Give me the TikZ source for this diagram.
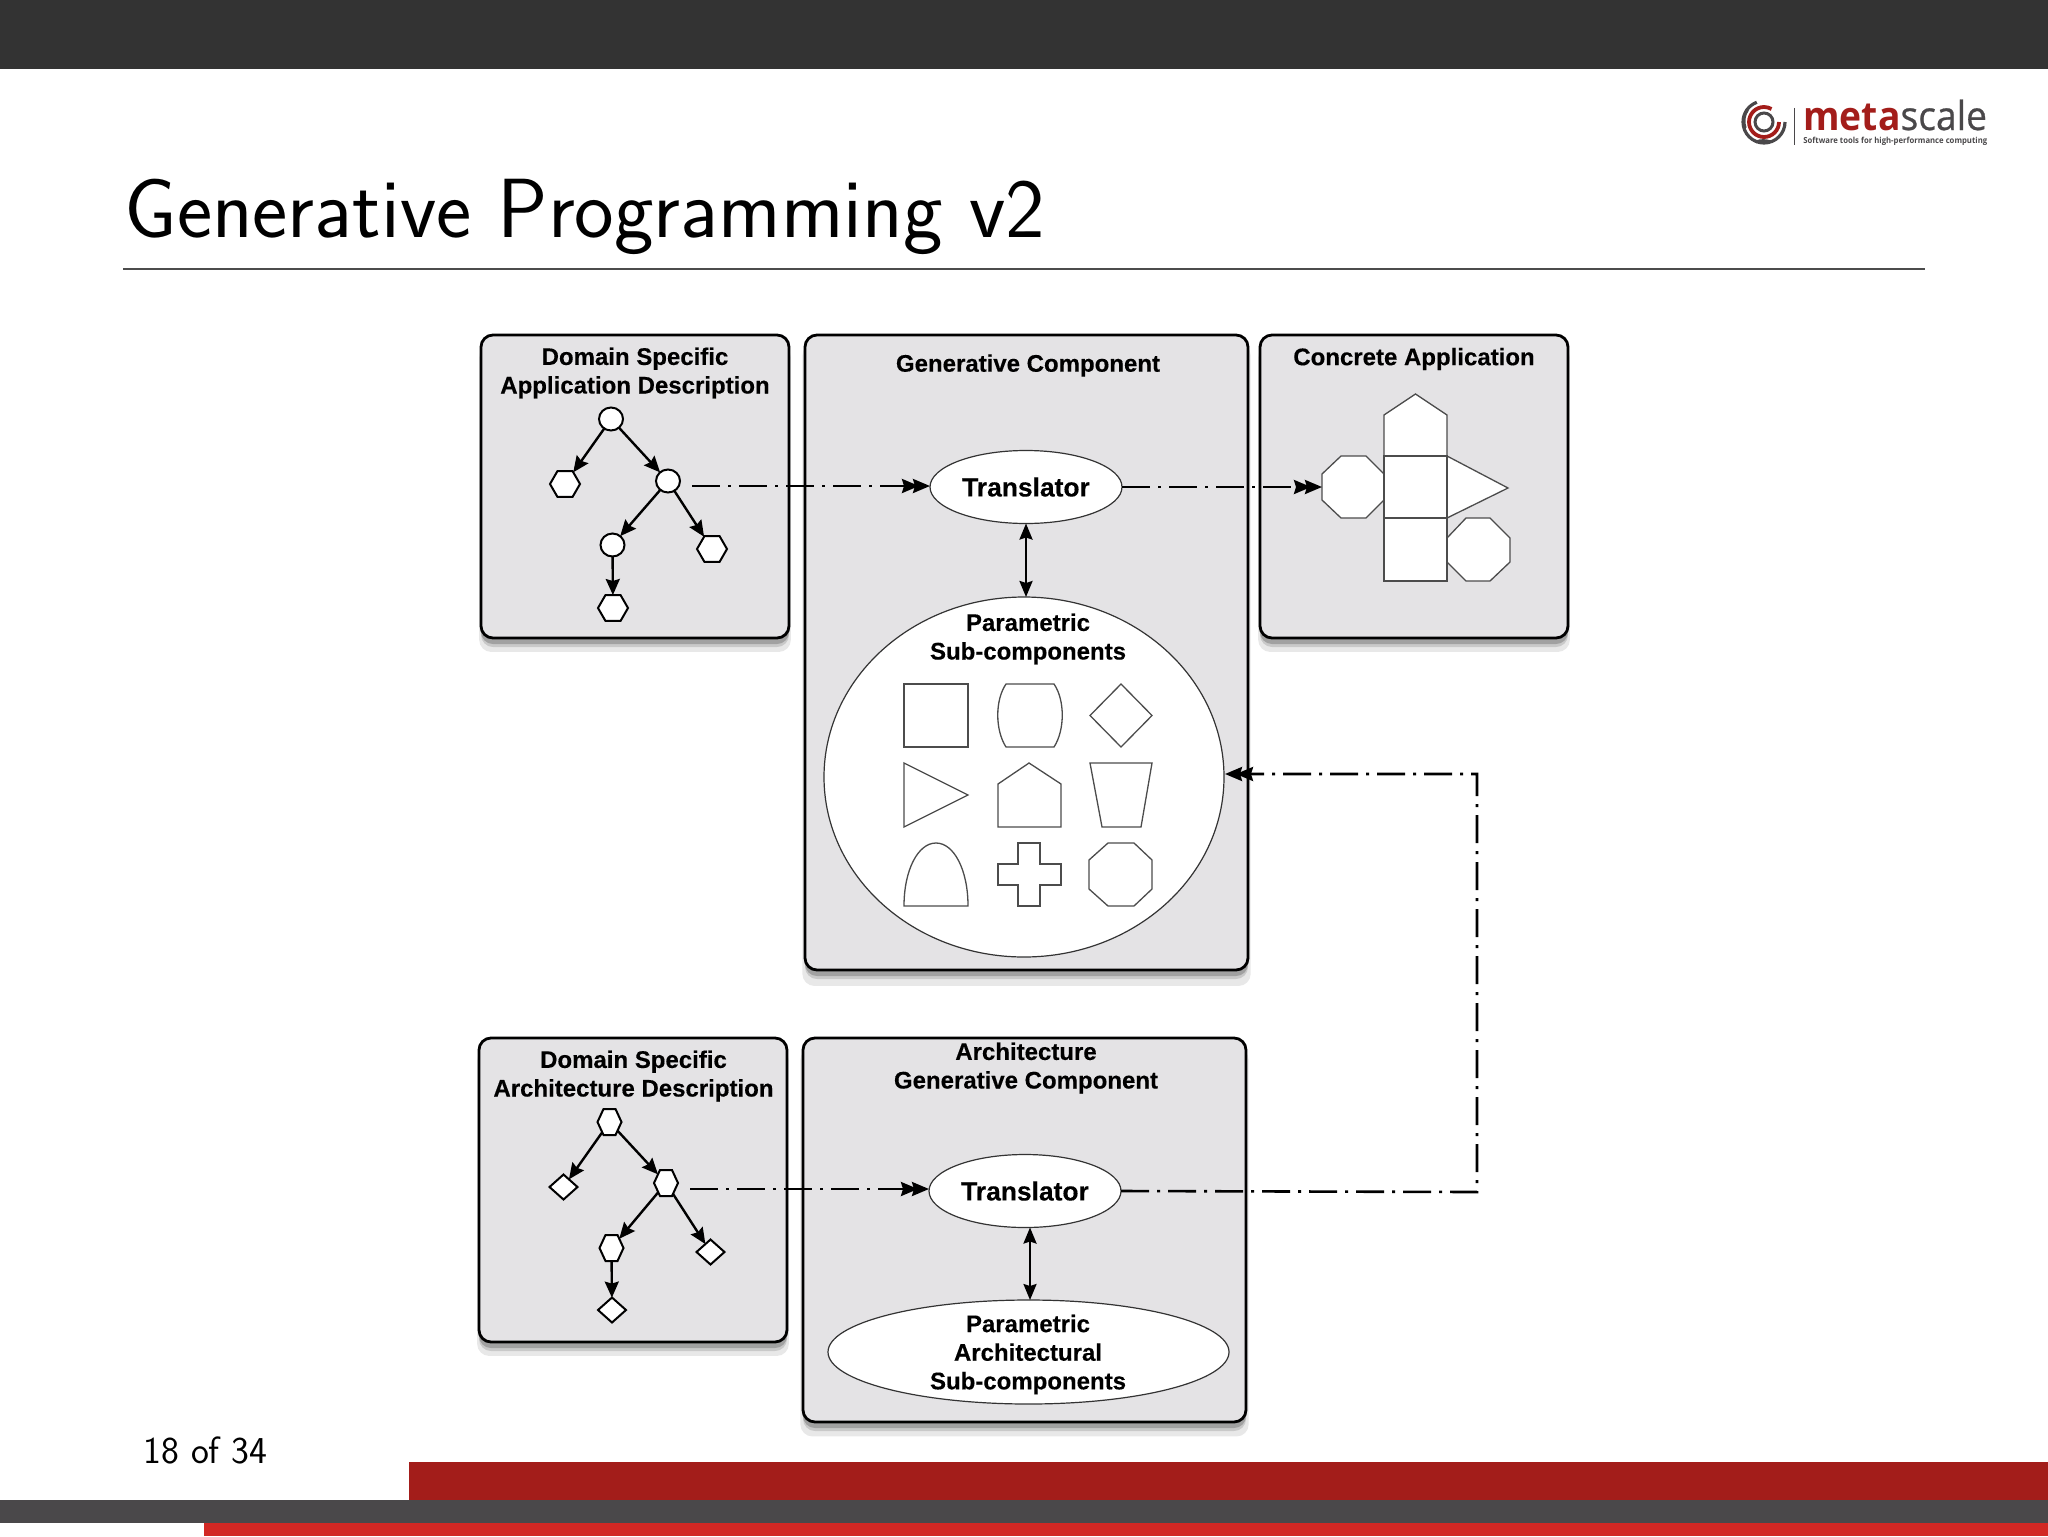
\documentclass[tikz,border=0pt]{standalone}
\usepackage{fontspec}
\usetikzlibrary{shapes.geometric,arrows.meta,shadows}
\newfontfamily\figfont[BoldFeatures={FakeBold=.3}]{Liberation Sans}
\newfontfamily\logofont[FakeStretch=.93]{Open Sans}
\newfontfamily\logoscale[FakeStretch=.93,FakeBold=.6]{Open Sans}
\definecolor{topbar}{HTML}{333333}
\definecolor{panelgrey}{HTML}{E4E3E5}
\definecolor{darkred}{HTML}{A31D1A}
\definecolor{brightred}{HTML}{D22824}
\definecolor{footgrey}{HTML}{4A484A}
\begin{document}
\begin{tikzpicture}[x=.5pt,y=-.5pt, % coordinates are reference pixels
  panel/.style={draw=black,line width=1.4pt,fill=panelgrey,rounded corners=6pt,inner sep=0,outer sep=0,
    drop shadow={shadow xshift=0pt,shadow yshift=-6pt,shadow scale=1.012,opacity=.18},
    drop shadow={shadow xshift=0pt,shadow yshift=-4.5pt,opacity=.3},
    drop shadow={shadow xshift=0pt,shadow yshift=-3pt,opacity=.55}},
  caption/.style={font=\figfont\bfseries\fontsize{12}{14.3}\selectfont,align=center,inner sep=0},
  oval/.style={ellipse,draw=black!80,line width=.6pt,fill=white,inner sep=0,outer sep=0},
  treeround/.style={ellipse,draw=black,line width=1pt,fill=white,minimum width=12pt,minimum height=11.5pt,inner sep=0,outer sep=0},
  treehex/.style={regular polygon,regular polygon sides=6,draw=black,line width=1pt,fill=white,minimum size=15pt,inner sep=0,outer sep=0},
  treekite/.style={diamond,draw=black,line width=1pt,fill=white,minimum width=14pt,minimum height=12.5pt,aspect=1.2,inner sep=0,outer sep=0},
  treearrow/.style={line width=1.2pt,-{Stealth[length=8pt,width=7pt,inset=1pt]}},
  flow/.style={line width=1.3pt,dash pattern=on 14pt off 4pt on 1.5pt off 4pt,-{Stealth[length=8.5pt,width=7pt,inset=1pt,sep=-3pt]Stealth[length=8.5pt,width=7pt,inset=1pt]}},
  both/.style={line width=1.2pt,{Stealth[length=8pt,width=6.5pt,inset=1pt]}-{Stealth[length=8pt,width=6.5pt,inset=1pt]}},
  form/.style={draw=black!70,line width=.65pt,fill=white}]
\useasboundingbox (0,0) rectangle (2048,1536);

% slide furniture
\fill[topbar] (0,0) rectangle (2048,69);
\fill[darkred] (409,1462) rectangle (2048,1500);
\fill[footgrey] (0,1500) rectangle (2048,1523);
\fill[brightred] (204,1523) rectangle (2048,1536);
\draw[black!70,line width=1.2pt] (123,269) -- (1925,269);
\node[anchor=base west,inner sep=0] (slidetitle) at (124,237) {\sffamily\fontsize{42}{50}\selectfont Generative Programming v2};
\node[anchor=base west,inner sep=0] (pagenum) at (143,1463) {\sffamily\fontsize{19}{23}\selectfont 18 of 34};

% logo
\draw[footgrey,line width=1.6pt] (1785,122) arc (0:250:21) (1756,142) arc (250:290:21);
\draw[footgrey,line width=1.6pt] (1745,128) arc (160:215:20);
\draw[darkred,line width=1.9pt] (1779,122) arc (0:300:15);
\draw[footgrey,line width=1.5pt] (1773,122) arc (0:360:9);
\draw[footgrey,line width=.5pt] (1794,108) -- (1794,145);
\node[anchor=base west,inner sep=0] (logoname) at (1803,130) {\fontsize{20}{24}\selectfont{\color{darkred}\logofont\bfseries meta}{\color{footgrey}\logoscale scale}};
\node[anchor=base west,inner sep=0,text=footgrey] (logotag) at (1803,143) {\logofont\bfseries\fontsize{4.15}{5}\selectfont Software tools for high-performance computing};

% panels
\node[panel,minimum width=154pt,minimum height=151.5pt] (apppanel) at (635,486.5) {};
\node[panel,minimum width=221.5pt,minimum height=317.5pt] (genpanel) at (1026.5,652.5) {};
\node[panel,minimum width=154pt,minimum height=151.5pt] (concpanel) at (1414,486.5) {};
\node[panel,minimum width=154pt,minimum height=152pt] (archpanel) at (633,1190) {};
\node[panel,minimum width=221.5pt,minimum height=192pt] (agenpanel) at (1024.5,1230) {};

\node[caption] (apptitle) at (635,373) {Domain Specific\\Application Description};
\node[caption] (gentitle) at (1028,365.5) {Generative Component};
\node[caption] (conctitle) at (1414,359) {Concrete Application};
\node[caption] (archtitle) at (633.5,1076) {Domain Specific\\Architecture Description};
\node[caption] (agentitle) at (1026,1068) {Architecture\\Generative Component};

% ovals
\node[oval,minimum width=96pt,minimum height=36.5pt,font=\figfont\bfseries\fontsize{13.2}{16}\selectfont] (trans) at (1026,487) {Translator};
\node[oval,minimum width=200pt,minimum height=180pt] (subs) at (1024,777) {};
\node[caption] (substitle) at (1028,639) {Parametric\\Sub-components};
\node[oval,minimum width=96pt,minimum height=36.5pt,font=\figfont\bfseries\fontsize{13.2}{16}\selectfont] (atrans) at (1025,1191) {Translator};
\node[oval,minimum width=200.5pt,minimum height=52pt] (asubs) at (1028.5,1352) {};
\node[caption] (asubstitle) at (1028,1354.5) {Parametric\\Architectural\\Sub-components};

% application tree
\node[treeround] (aroot) at (611,419) {};
\node[treehex] (aleafa) at (565,484) {};
\node[treeround] (amid) at (668,481) {};
\node[treeround] (alow) at (612.5,545) {};
\node[treehex] (aleafb) at (712,549) {};
\node[treehex] (aleafc) at (613,608) {};
\draw[treearrow] (aroot) -- (aleafa);
\draw[treearrow] (aroot) -- (amid);
\draw[treearrow] (amid) -- (alow);
\draw[treearrow] (amid) -- (aleafb);
\draw[treearrow] (alow) -- (aleafc);

% architecture tree
\node[treehex,xscale=.8,transform shape] (broot) at (609.5,1122) {};
\node[treekite] (bleafa) at (563.5,1187) {};
\node[treehex,xscale=.8,transform shape] (bmid) at (666,1183) {};
\node[treehex,xscale=.8,transform shape] (blow) at (611.5,1248) {};
\node[treekite] (bleafb) at (710.5,1252) {};
\node[treekite] (bleafc) at (612,1310) {};
\draw[treearrow] (broot) -- (bleafa);
\draw[treearrow] (broot) -- (bmid);
\draw[treearrow] (bmid) -- (blow);
\draw[treearrow] (bmid) -- (bleafb);
\draw[treearrow] (blow) -- (bleafc);

% sub-component forms
\draw[form] (904,684) rectangle (968,747);
\draw[form] (1006,684) -- (1054,684) .. controls (1065,700) and (1065,730) .. (1054,747) -- (1006,747) .. controls (995,730) and (995,700) .. (1006,684) -- cycle;
\draw[form] (1121,684) -- (1152,715.5) -- (1121,747) -- (1090,715.5) -- cycle;
\draw[form] (904,763) -- (968,795) -- (904,827) -- cycle;
\draw[form] (1029,763) -- (1061,784) -- (1061,827) -- (998,827) -- (998,784) -- cycle;
\draw[form] (1090,763) -- (1152,763) -- (1141,827) -- (1102,827) -- cycle;
\draw[form] (904,906) .. controls (904,870) and (918,843) .. (936,843) .. controls (954,843) and (968,870) .. (968,906) -- cycle;
\draw[form] (1018,843) -- (1040,843) -- (1040,864) -- (1061,864) -- (1061,885) -- (1040,885) -- (1040,906) -- (1018,906) -- (1018,885) -- (998,885) -- (998,864) -- (1018,864) -- cycle;
\draw[form] (1108,843) -- (1134,843) -- (1152,860) -- (1152,889) -- (1134,906) -- (1108,906) -- (1089,889) -- (1089,860) -- cycle;

% concrete application forms
\draw[form] (1322,474) -- (1341,456) -- (1366,456) -- (1384,474) -- (1384,500) -- (1366,518) -- (1341,518) -- (1322,500) -- cycle;
\draw[form] (1447,538) -- (1466,518) -- (1490,518) -- (1510,538) -- (1510,562) -- (1490,581) -- (1466,581) -- (1447,562) -- cycle;
\draw[form] (1447,456) -- (1508,488) -- (1447,518) -- cycle;
\draw[form] (1384,456) -- (1384,415) -- (1415.5,394) -- (1447,415) -- (1447,456) -- cycle;
\draw[form] (1384,456) rectangle (1447,518);
\draw[form] (1384,518) rectangle (1447,581);

% connectors
\coordinate (octleft) at (1322,487);
\coordinate (transin) at (930,486);
\coordinate (atransin) at (929,1189);
\coordinate (bendin) at (1477,1192);
\coordinate (bendup) at (1477,774);
\coordinate (subsin) at (1225,774);
\draw[flow,shorten <=6pt] (amid.east |- transin) -- (transin);
\draw[flow] (trans.east) -- (octleft);
\draw[both] (trans.south) -- (trans.south |- subs.north);
\draw[flow,shorten <=6pt] (bmid.east |- atransin) -- (atransin);
\draw[flow] (atrans.east) -- (bendin) -- (bendup) -- (subsin);
\draw[both] ([xshift=2.5pt]atrans.south) -- ([xshift=.75pt]asubs.north);
\end{tikzpicture}
\end{document}
